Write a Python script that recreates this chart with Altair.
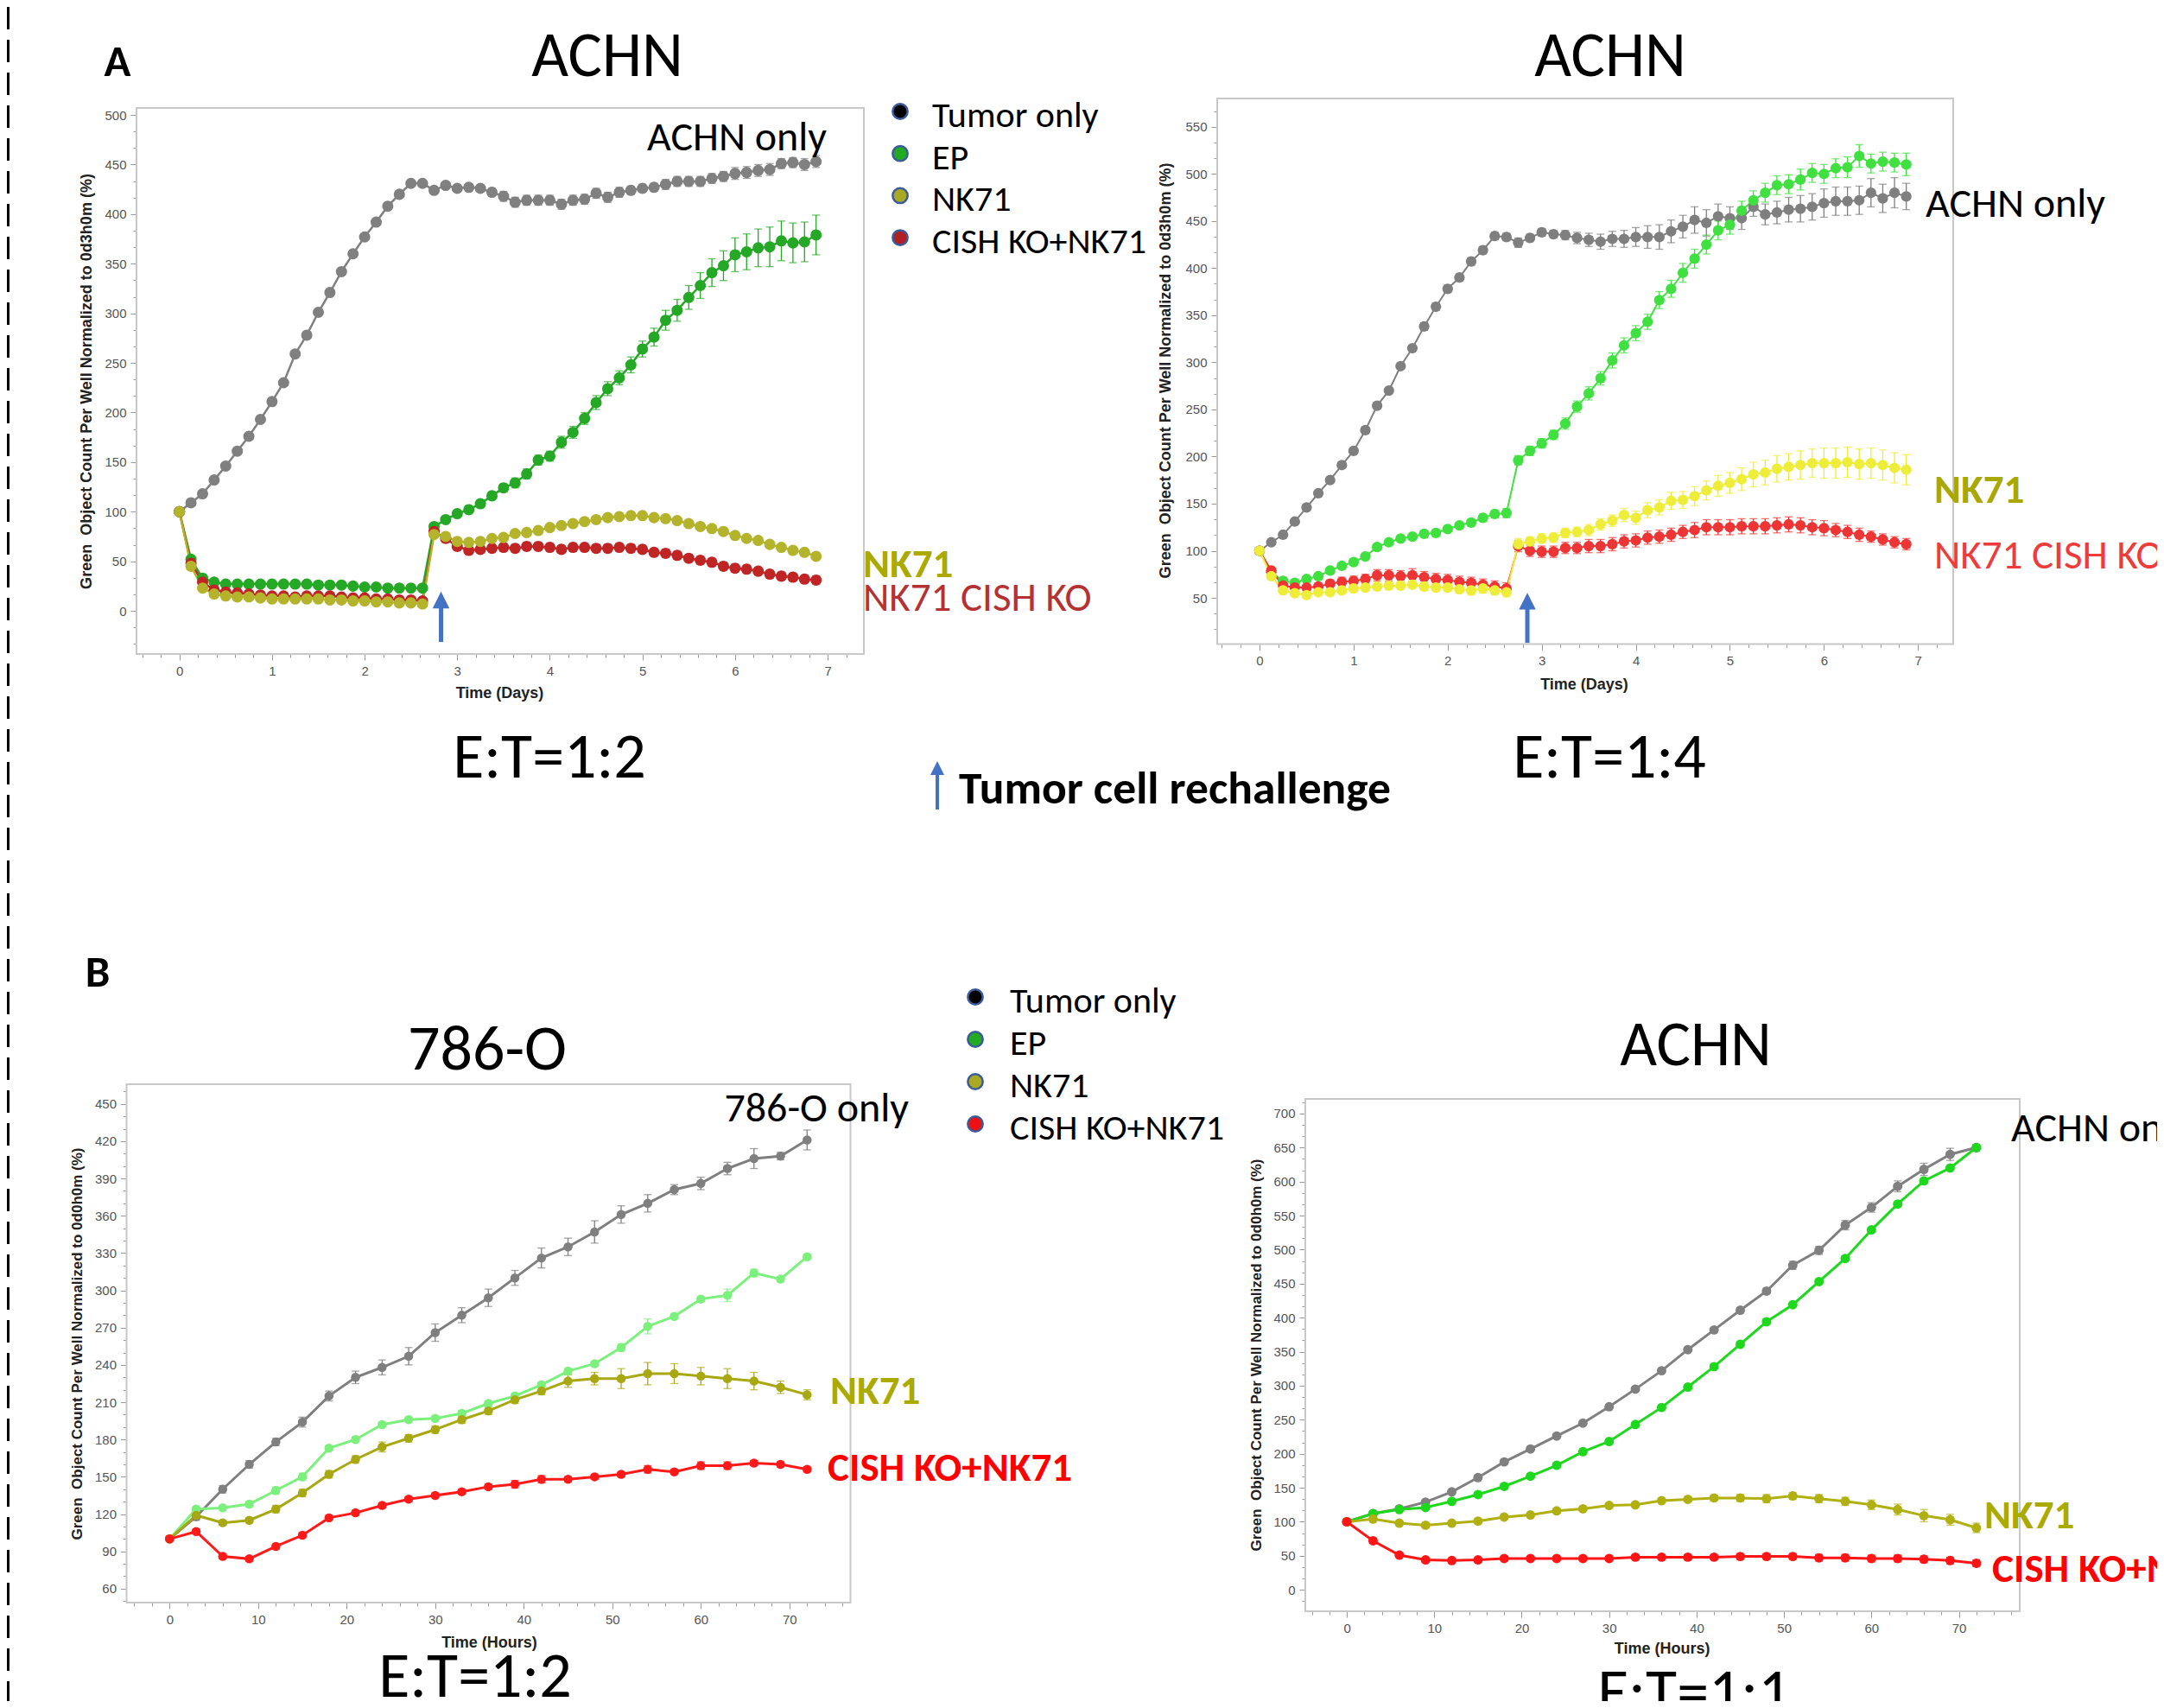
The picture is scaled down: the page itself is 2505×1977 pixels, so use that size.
import altair as alt
import pandas as pd

# ------------------------------------------------------------------ data
# Panel A: ACHN, images every 3 h over 7 days (x in days)
A_DAYS = [i * 3 / 24 for i in range(56)]

A1_TUMOR = [100, 109, 118, 132, 146, 161, 176, 193, 211, 230, 259, 278, 301, 321, 342, 360, 377, 392, 408, 420,
            431, 431, 424, 429, 426, 427, 426, 422, 418, 412, 414, 414, 414, 410, 414, 415, 421, 417, 422, 424,
            426, 427, 430, 433, 433, 433, 436, 438, 441, 442, 444, 445, 451, 452, 450, 453]
A1_TUMOR_SE = [0, 2, 2, 2, 2, 2, 2, 2, 2, 2, 2, 2, 2, 2, 3, 3, 3, 3, 3, 3,
               3, 3, 3, 3, 3, 3, 3, 4, 5, 5, 5, 5, 5, 5, 5, 5, 5, 5, 5, 4,
               4, 4, 5, 5, 5, 5, 5, 5, 6, 6, 6, 6, 5, 5, 6, 6]
A1_EP = [100, 52, 33, 29, 27, 27, 27, 27, 27, 27, 27, 27, 26, 26, 26, 25, 24, 24, 23, 23,
         23, 23, 85, 92, 98, 102, 108, 116, 124, 129, 138, 152, 156, 170, 180, 194, 210, 224, 235, 248,
         264, 276, 293, 303, 316, 328, 341, 348, 359, 362, 366, 367, 373, 371, 372, 379]
A1_EP_SE = [0, 3, 3, 2, 2, 2, 2, 2, 2, 2, 2, 2, 2, 2, 2, 2, 2, 2, 2, 2,
            2, 2, 3, 3, 3, 4, 4, 4, 4, 5, 5, 5, 5, 6, 6, 6, 7, 7, 7, 8,
            8, 9, 10, 11, 12, 13, 14, 15, 17, 18, 19, 20, 20, 20, 20, 20]
A1_NK = [100, 45, 23, 17, 15, 14, 14, 13, 12, 12, 12, 12, 12, 11, 11, 10, 10, 9, 9, 8,
         8, 7, 77, 75, 70, 69, 70, 73, 74, 78, 79, 81, 84, 86, 88, 90, 92, 94, 95, 96,
         96, 94, 93, 91, 88, 85, 83, 80, 76, 73, 71, 67, 64, 61, 59, 55]
A1_NK_SE = [0, 3, 3, 3, 3, 3, 3, 3, 3, 3, 3, 3, 3, 3, 3, 3, 3, 3, 3, 3,
            3, 3, 3, 3, 3, 3, 3, 3, 3, 3, 3, 3, 3, 3, 3, 3, 3, 3, 3, 3,
            3, 3, 3, 3, 3, 3, 3, 3, 3, 3, 3, 3, 3, 3, 3, 3]
A1_KO = [100, 48, 29, 21, 19, 18, 17, 16, 15, 15, 14, 15, 15, 15, 14, 13, 13, 12, 12, 11,
         11, 10, 80, 73, 65, 61, 62, 63, 64, 63, 65, 65, 64, 62, 64, 64, 63, 63, 64, 63,
         62, 59, 58, 56, 53, 51, 49, 45, 43, 42, 40, 37, 35, 34, 32, 31]
A1_KO_SE = [0, 3, 3, 3, 3, 3, 3, 3, 3, 3, 3, 3, 3, 3, 3, 3, 3, 3, 3, 3,
            3, 3, 4, 4, 4, 4, 4, 4, 4, 4, 4, 4, 4, 4, 4, 4, 4, 4, 4, 4,
            4, 4, 4, 4, 4, 4, 4, 4, 4, 4, 4, 4, 4, 4, 4, 4]

A2_TUMOR = [100, 109, 117, 131, 146, 161, 175, 191, 206, 228, 254, 270, 296, 315, 338, 359, 378, 390, 407, 419,
            434, 433, 427, 432, 438, 436, 435, 432, 430, 428, 431, 431, 433, 433, 433, 439, 444, 451, 448, 455,
            453, 453, 465, 457, 459, 462, 463, 465, 469, 471, 471, 472, 480, 474, 480, 476]
A2_TUMOR_SE = [0, 2, 2, 2, 2, 2, 2, 2, 2, 3, 3, 3, 3, 3, 4, 4, 4, 4, 4, 4,
               4, 4, 5, 4, 4, 4, 5, 6, 7, 8, 8, 9, 10, 12, 13, 12, 12, 14, 14, 13,
               12, 12, 10, 11, 12, 13, 14, 14, 15, 15, 15, 15, 15, 15, 16, 14]
A2_EP = [100, 77, 68, 66, 70, 73, 79, 84, 88, 94, 104, 109, 113, 115, 118, 119, 123, 127, 130, 135,
         139, 140, 196, 206, 214, 223, 235, 253, 267, 283, 302, 318, 331, 343, 366, 378, 395, 410, 425, 440,
         446, 461, 472, 480, 488, 489, 494, 501, 500, 506, 507, 519, 511, 513, 512, 510]
A2_EP_SE = [0, 3, 3, 3, 3, 3, 3, 3, 3, 3, 3, 3, 3, 3, 3, 3, 3, 3, 3, 4,
            4, 5, 5, 5, 5, 5, 6, 6, 7, 7, 8, 8, 8, 8, 9, 9, 10, 10, 10, 10,
            10, 10, 10, 10, 10, 10, 11, 10, 10, 10, 11, 12, 10, 10, 10, 12]
A2_NK = [100, 73, 58, 55, 53, 56, 56, 58, 60, 61, 62, 63, 63, 64, 62, 61, 61, 59, 58, 60,
         58, 56, 107, 110, 113, 114, 119, 120, 122, 128, 132, 138, 135, 143, 146, 153, 154, 158, 164, 169,
         172, 176, 181, 183, 187, 189, 191, 193, 193, 193, 194, 192, 193, 191, 188, 186]
A2_NK_SE = [0, 3, 3, 3, 3, 3, 3, 3, 3, 3, 3, 4, 4, 4, 4, 4, 4, 4, 5, 5,
            5, 5, 6, 5, 5, 5, 5, 5, 6, 6, 6, 7, 7, 8, 8, 9, 9, 10, 10, 11,
            11, 12, 13, 13, 14, 14, 15, 15, 16, 16, 16, 16, 16, 16, 16, 16]
A2_KO = [100, 79, 63, 61, 61, 62, 65, 67, 68, 70, 74, 74, 73, 74, 72, 70, 69, 67, 66, 64,
         62, 60, 105, 100, 99, 99, 103, 103, 105, 105, 107, 110, 111, 114, 115, 117, 120, 122, 125, 125,
         125, 126, 126, 126, 127, 128, 127, 125, 124, 122, 120, 117, 115, 112, 109, 107]
A2_KO_SE = [0, 3, 3, 3, 3, 4, 4, 5, 5, 5, 6, 6, 6, 7, 6, 6, 6, 6, 6, 6,
            6, 6, 6, 6, 6, 6, 6, 6, 7, 7, 7, 7, 7, 7, 7, 7, 7, 8, 8, 8,
            8, 8, 8, 8, 8, 8, 8, 8, 8, 7, 7, 7, 6, 6, 6, 6]

# Panel B: images every 3 h over 72 h (x in hours)
B_HOURS = list(range(0, 73, 3))

B1_TUMOR = [100, 118, 140, 160, 178, 194, 215, 230, 238, 247, 266, 280, 294, 310, 326, 335, 347, 361, 370, 381,
            386, 398, 406, 408, 421]
B1_TUMOR_SE = [2, 3, 3, 3, 3, 4, 4, 5, 6, 7, 7, 6, 7, 6, 8, 7, 9, 7, 7, 4, 5, 5, 8, 3, 8]
B1_EP = [100, 124, 125, 128, 139, 150, 173, 180, 192, 196, 197, 201, 209, 215, 224, 235, 241, 254, 271, 279,
         293, 296, 314, 309, 327]
B1_EP_SE = [1, 2, 2, 2, 3, 3, 2, 2, 2, 2, 2, 2, 2, 2, 2, 2, 2, 3, 6, 2, 2, 5, 3, 2, 2]
B1_NK = [100, 119, 113, 115, 124, 137, 152, 164, 174, 181, 188, 196, 203, 212, 219, 227, 229, 229, 233, 233,
         231, 229, 227, 222, 216]
B1_NK_SE = [1, 3, 2, 2, 3, 3, 3, 3, 4, 3, 3, 3, 3, 3, 3, 5, 5, 8, 9, 8, 7, 8, 7, 5, 4]
B1_KO = [100, 106, 86, 84, 94, 103, 117, 121, 127, 132, 135, 138, 142, 144, 148, 148, 150, 152, 156, 154,
         159, 159, 161, 160, 156]
B1_KO_SE = [1, 2, 2, 2, 2, 2, 2, 2, 2, 2, 2, 2, 2, 3, 3, 2, 2, 2, 3, 2, 3, 3, 2, 2, 2]

B2_TUMOR = [100, 112, 119, 129, 144, 165, 188, 207, 226, 245, 269, 295, 322, 353, 382, 411, 439, 477, 499, 536,
            562, 593, 618, 640, 650]
B2_TUMOR_SE = [2, 2, 2, 2, 3, 3, 3, 3, 3, 3, 3, 3, 3, 3, 3, 4, 4, 6, 6, 7, 7, 8, 9, 9, 4]
B2_EP = [100, 112, 118, 121, 130, 140, 152, 167, 183, 203, 218, 243, 268, 298, 328, 361, 394, 419, 453, 487,
         529, 567, 601, 620, 650]
B2_EP_SE = [2, 2, 2, 2, 2, 2, 3, 3, 3, 3, 3, 3, 3, 3, 3, 3, 4, 3, 3, 3, 3, 3, 3, 3, 3]
B2_NK = [100, 104, 98, 95, 98, 101, 107, 110, 116, 119, 124, 125, 131, 133, 135, 135, 134, 138, 134, 130,
         125, 118, 109, 103, 91]
B2_NK_SE = [2, 2, 2, 2, 3, 3, 3, 3, 3, 3, 3, 3, 3, 3, 4, 5, 6, 5, 6, 6, 7, 8, 9, 8, 7]
B2_KO = [100, 72, 51, 44, 43, 44, 46, 46, 46, 46, 46, 48, 48, 48, 48, 49, 49, 49, 47, 47,
         46, 46, 45, 43, 39]
B2_KO_SE = [2, 3, 3, 3, 3, 3, 3, 3, 3, 3, 3, 3, 3, 3, 3, 4, 4, 4, 5, 5, 5, 5, 5, 5, 5]

LEGEND_LABELS = ["Tumor only", "EP", "NK71", "CISH KO+NK71"]

# ------------------------------------------------------------------ styling
W, H = 2489, 1961          # whole page drawn in one view (page coords - 8)
BIG = "Carlito, Calibri, Lato, sans-serif"
SMALL = "Liberation Sans Narrow, Arial Narrow, Liberation Sans, Arial, sans-serif"
TITLEF = "Liberation Sans, Arial, sans-serif"
BLUE = "#4472c4"

SERIES_COLORS = {
    "A1": {"tumor": "#808080", "ep": "#25a825", "ko": "#c02525", "nk": "#b4b42c"},
    "A2": {"tumor": "#7f7f7f", "ep": "#3fe03f", "ko": "#ee3535", "nk": "#eeee3a"},
    "B1": {"tumor": "#7f7f7f", "ep": "#7cf07c", "nk": "#a8a812", "ko": "#ff1a1a"},
    "B2": {"tumor": "#808080", "ep": "#1ed81e", "nk": "#b0b012", "ko": "#ff1515"},
}
KEYS, KCOLS = [], []
for p, d in SERIES_COLORS.items():
    for s, c in d.items():
        KEYS.append(f"{p}:{s}")
        KCOLS.append(c)
COLOR = alt.Color("key:N", scale=alt.Scale(domain=KEYS, range=KCOLS), legend=None)

ONE = pd.DataFrame({"d": [0]})


def ticks(lo, hi, step):
    out = []
    k = int(lo // step) - 1
    while k * step <= hi + 1e-9:
        v = round(k * step, 6)
        if lo <= v <= hi:
            out.append(v)
        k += 1
    return out


def make_axis(orient, offset, values, major, title, tx, ty, tsize, angle):
    test = f"datum.value % {major} === 0"
    return alt.Axis(
        orient=orient, offset=offset, values=values, grid=False, domain=False,
        labelExpr=f"{test} ? format(datum.value, 'd') : ''",
        tickSize={"condition": {"test": test, "value": 7}, "value": 4},
        tickColor="#999999", tickWidth=1, labelOverlap=False, labelFlush=False,
        labelFont=SMALL, labelFontSize=15, labelColor="#555555", labelPadding=5,
        title=title, titleFont=TITLEF, titleFontWeight="bold", titleFontSize=tsize,
        titleColor="#222222", titleX=tx, titleY=ty, titleAngle=angle,
        titleAlign="center", titleBaseline="middle",
    )


def panel(tag, t, series, xdom, xrng, ydom, yrng, xmaj, xminor, ymaj, yminor,
          xtitle, ytitle, xt, yt, tsize, pt_size, lw, arrow=None):
    rows = []
    for name, vals, errs in series:
        for ti, v, e in zip(t, vals, errs):
            rows.append({"t": ti, "v": v, "lo": v - e, "hi": v + e, "key": f"{tag}:{name}"})
    df = pd.DataFrame(rows)
    xs = alt.Scale(domain=xdom, range=xrng, nice=False, zero=False)
    ys = alt.Scale(domain=ydom, range=yrng, nice=False, zero=False)
    xa = make_axis("bottom", yrng[0] - H, ticks(xdom[0], xdom[1], xminor), xmaj,
                   xtitle, xt[0], xt[1], 18, 0)
    ya = make_axis("left", -xrng[0], ticks(ydom[0], ydom[1], yminor), ymaj,
                   ytitle, yt[0], yt[1], tsize, 270)

    def X(f):
        return alt.X(f, type="quantitative", scale=xs, axis=xa, title=xtitle)

    def Y(f):
        return alt.Y(f, type="quantitative", scale=ys, axis=ya, title=ytitle)

    frame_df = pd.DataFrame({"x0": [xdom[0]], "x1": [xdom[1]], "y0": [ydom[0]], "y1": [ydom[1]]})
    frame = alt.Chart(frame_df).mark_rect(fillOpacity=0, stroke="#c8c8c8", strokeWidth=2).encode(
        x=X("x0"), x2="x1", y=Y("y0"), y2="y1")
    err = alt.Chart(df).mark_errorbar(ticks=True, size=9, thickness=1.3).encode(
        x=X("t"), y=Y("lo"), y2="hi", color=COLOR)
    line = alt.Chart(df).mark_line(strokeWidth=lw).encode(x=X("t"), y=Y("v"), color=COLOR)
    pts = alt.Chart(df).mark_circle(size=pt_size, opacity=1).encode(x=X("t"), y=Y("v"), color=COLOR)
    layers = [frame, err, line, pts]
    if arrow is not None:
        adf = pd.DataFrame({"t": [arrow[0]], "y0": [arrow[1]], "y1": [arrow[2]], "yh": [arrow[3]]})
        layers.append(alt.Chart(adf).mark_rule(color=BLUE, strokeWidth=5).encode(
            x=X("t"), y=Y("y0"), y2="y1"))
        layers.append(alt.Chart(adf).mark_point(shape="M0,-1L1,1L-1,1Z", size=380, filled=True,
                                                color=BLUE, opacity=1).encode(x=X("t"), y=Y("yh")))
    return alt.layer(*layers)


YT_A = "Green\u00a0\u00a0Object Count Per Well Normalized to 0d3h0m (%)"
YT_B = "Green\u00a0\u00a0Object Count Per Well Normalized to 0d0h0m (%)"

pA1 = panel("A1", A_DAYS,
            [("tumor", A1_TUMOR, A1_TUMOR_SE), ("ep", A1_EP, A1_EP_SE),
             ("ko", A1_KO, A1_KO_SE), ("nk", A1_NK, A1_NK_SE)],
            [-0.4636, 7.391], [150, 992], [-43.5, 507], [749, 117],
            1, 0.2, 50, 50 / 3, "Time (Days)", YT_A, (570, 45), (-58, 433), 18, 170, 2.5,
            arrow=(2.825, -31.4, 6, 10.9))
pA2 = panel("A2", A_DAYS,
            [("tumor", A2_TUMOR, A2_TUMOR_SE), ("ep", A2_EP, A2_EP_SE),
             ("ko", A2_KO, A2_KO_SE), ("nk", A2_NK, A2_NK_SE)],
            [-0.45, 7.374], [1401, 2253], [1, 580], [737.5, 106],
            1, 0.2, 50, 50 / 3, "Time (Days)", YT_A, (1825.5, 46.5), (-60, 420.5), 18, 150, 2,
            arrow=(2.847, 2.3, 42, 46.5))
pB1 = panel("B1", B_HOURS,
            [("tumor", B1_TUMOR, B1_TUMOR_SE), ("ep", B1_EP, B1_EP_SE),
             ("nk", B1_NK, B1_NK_SE), ("ko", B1_KO, B1_KO_SE)],
            [-4.86, 76.9], [138.5, 976.5], [48.8, 465.8], [1847, 1247],
            10, 2, 30, 10, "Time (Hours)", YT_B, (558, 46), (-57.5, 1547), 17, 110, 3)
pB2 = panel("B2", B_HOURS,
            [("tumor", B2_TUMOR, B2_TUMOR_SE), ("ep", B2_EP, B2_EP_SE),
             ("nk", B2_NK, B2_NK_SE), ("ko", B2_KO, B2_KO_SE)],
            [-4.75, 76.96], [1503, 2330], [-31.5, 721.5], [1857, 1264],
            10, 2, 50, 50 / 3, "Time (Hours)", YT_B, (1915.6, 43), (-57, 1560), 17, 120, 3)


# ------------------------------------------------------------------ annotations (page coords)
def txt(s, x, y, size, color="black", weight="normal", align="left", font=BIG):
    return alt.Chart(ONE).mark_text(text=s, font=font, fontSize=size, fontWeight=weight, color=color,
                                    align=align, baseline="alphabetic").encode(
        x=alt.value(x - 8), y=alt.value(y - 8))


def legend(x_marker, x_text, y_first, dy, fills):
    out = []
    for i, (lab, f) in enumerate(zip(LEGEND_LABELS, fills)):
        yb = y_first + i * dy
        out.append(alt.Chart(ONE).mark_point(shape="circle", fill=f, stroke="#3b5b9b", strokeWidth=2.5,
                                             size=300, opacity=1, fillOpacity=1).encode(
            x=alt.value(x_marker - 8), y=alt.value(yb - 18 - 8)))
        out.append(txt(lab, x_text, yb, 42))
    return out


TITLE_SZ = 74
LABEL_SZ = 48
SERIES_SZ = 47

ann = []
ann.append(alt.Chart(ONE).mark_rule(color="black", strokeWidth=3, strokeDash=[26, 12]).encode(
    x=alt.value(1.5), y=alt.value(0), y2=alt.value(H)))
ann.append(txt("A", 136, 88, 51, weight="bold", align="center"))
ann.append(txt("ACHN", 703, 88, TITLE_SZ, align="center"))
ann.append(txt("ACHN", 1864, 88, TITLE_SZ, align="center"))
ann += legend(1042, 1079, 147, 48.7, ["#000000", "#22aa22", "#aaaa22", "#b02222"])
ann.append(txt("ACHN only", 957, 174, LABEL_SZ, align="right"))
ann.append(txt("NK71", 999, 668, SERIES_SZ, color="#aaaa00", weight="bold"))
ann.append(txt("NK71 CISH KO", 999, 707, SERIES_SZ, color="#b53232"))
ann.append(txt("E:T=1:2", 636, 900, TITLE_SZ, align="center"))
ann.append(txt("E:T=1:4", 1863, 900, TITLE_SZ, align="center"))
ann.append(alt.Chart(ONE).mark_rule(color=BLUE, strokeWidth=4).encode(
    x=alt.value(1085 - 8), y=alt.value(937 - 8), y2=alt.value(892 - 8)))
ann.append(alt.Chart(ONE).mark_point(shape="M0,-1L1,1L-1,1Z", size=256, filled=True, color=BLUE,
                                     opacity=1).encode(x=alt.value(1085 - 8), y=alt.value(889 - 8)))
ann.append(txt("Tumor cell rechallenge", 1110, 930, 53.5, weight="bold"))
ann.append(txt("ACHN only", 2229, 251, LABEL_SZ))
ann.append(txt("NK71", 2239, 582, SERIES_SZ, color="#a8a800", weight="bold"))
ann.append(txt("NK71 CISH KO", 2239, 658, SERIES_SZ, color="#ee3b3b"))
ann.append(txt("B", 113, 1142, 51, weight="bold", align="center"))
ann.append(txt("786-O", 564, 1238, TITLE_SZ, align="center"))
ann.append(txt("ACHN", 1963, 1233, TITLE_SZ, align="center"))
ann += legend(1129, 1169, 1172, 49, ["#000000", "#22aa22", "#aaaa22", "#ee1111"])
ann.append(txt("786-O only", 1052, 1298, LABEL_SZ, align="right"))
ann.append(txt("NK71", 961, 1625, SERIES_SZ, color="#aaaa00", weight="bold"))
ann.append(txt("CISH KO+NK71", 958, 1714, SERIES_SZ, color="#ff0000", weight="bold"))
ann.append(txt("E:T=1:2", 550, 1964, TITLE_SZ, align="center"))
ann.append(txt("ACHN only", 2328, 1321, LABEL_SZ))
ann.append(txt("NK71", 2297, 1769, SERIES_SZ, color="#aaaa00", weight="bold"))
ann.append(txt("CISH KO+NK71", 2306, 1831, SERIES_SZ, color="#ff0000", weight="bold"))
ann.append(txt("E:T=1:1", 1961, 1983, TITLE_SZ, align="center"))

chart = alt.layer(pA1, pA2, pB1, pB2, *ann).resolve_scale(
    x="independent", y="independent"
).properties(
    width=W, height=H, autosize=alt.AutoSizeParams(type="none"), padding=0
).configure_view(strokeWidth=0)

chart.save("out.html", embed_options={"renderer": "svg", "actions": False})
